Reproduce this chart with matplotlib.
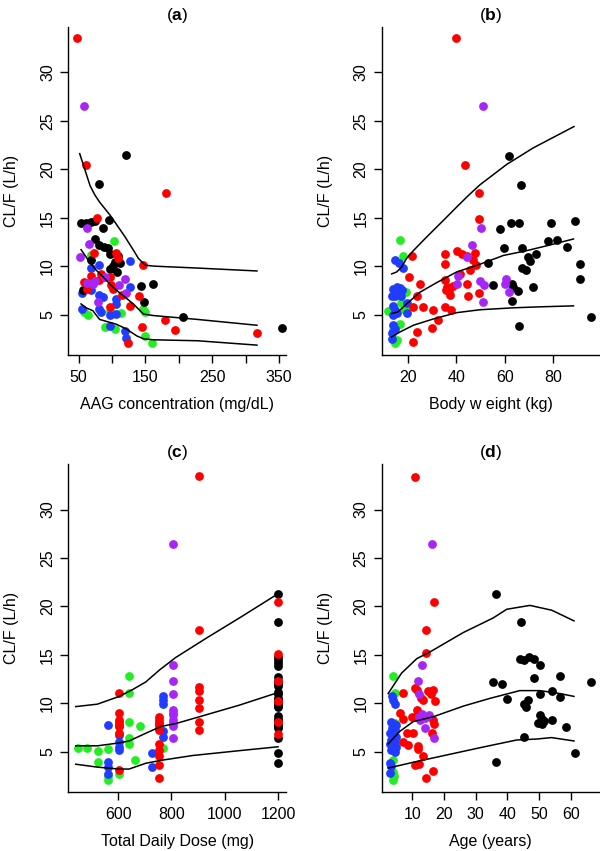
import matplotlib

matplotlib.use("Agg")
import matplotlib.pyplot as plt

plt.rcParams["font.family"] = ["Liberation Sans", "DejaVu Sans"]
plt.rcParams["mathtext.fontset"] = "custom"
plt.rcParams["mathtext.bf"] = "Liberation Sans:bold"
plt.rcParams["mathtext.rm"] = "Liberation Sans"

COLORS = {
    "green": "#22ee22",
    "blue": "#1f3cff",
    "black": "#000000",
    "red": "#ff0000",
    "purple": "#a626f5",
}
Y_TICKS = [5, 10, 15, 20, 25, 30]
Y_LABEL = "CL/F (L/h)"

# ---- panel (a): AAG concentration ----
AAG_GREEN = [(103, 12.6), (68.7, 11.1), (63.6, 5.0), (89, 3.7), (104, 3.5), (114, 5.2), (147, 5.6),
             (149.5, 2.8), (159.6, 2.1), (58, 5.3), (97, 5.4), (150, 5.3)]
AAG_BLUE = [(126.8, 10.55), (81, 10.1), (68.7, 9.8), (126.8, 7.8), (55, 7.2), (68.7, 7.5), (81, 7.0),
            (86, 6.8), (106.6, 6.6), (106.6, 6.1), (55, 5.55), (81, 5.55), (83.8, 5.3), (96.5, 5.0),
            (106.6, 5.1), (97.5, 3.8), (119, 3.3), (120.7, 2.6)]
AAG_BLACK = [(120.6, 21.5), (81, 18.5), (53.5, 14.45), (61, 14.45), (68.7, 14.6), (73.7, 14.7),
             (95.5, 14.8), (86.4, 13.9), (73.7, 12.8), (81, 12.2), (87.4, 12.0), (93.6, 11.9),
             (96.5, 11.2), (109, 11.0), (105, 10.45), (101, 10.0), (96.5, 9.7), (143, 7.9),
             (161, 8.2), (148, 6.3), (206.6, 4.8), (354, 3.6), (57, 7.5), (69, 10.6), (107, 9.4),
             (112, 10.3)]
AAG_RED = [(48, 33.5), (61, 20.4), (181, 17.5), (77.8, 15.0), (72.7, 11.4), (106.6, 11.4), (109, 10.8),
           (146, 10.1), (58.6, 8.4), (69, 9.0), (83.8, 9.2), (96.5, 8.9), (99, 8.1), (101.5, 7.6),
           (81, 8.6), (87, 8.9), (141, 6.9), (126.8, 5.9), (96.5, 5.8), (178.8, 4.45), (144.4, 3.7),
           (194, 3.4), (124, 2.1), (317, 3.05), (115, 7.0), (63, 7.6)]
AAG_PURPLE = [(57.5, 26.5), (62, 13.9), (66, 12.3), (52, 10.9), (75, 8.5), (62, 8.3), (71, 8.2),
              (89, 8.9), (110.6, 8.1), (119, 8.7), (120.7, 7.2), (78.8, 6.3)]
AAG_UPPER = [(51.5, 21.6), (67, 18.3), (73.7, 17.4), (81.3, 16.6), (96.5, 15.3), (106.6, 14.3),
             (119, 13.06), (131.8, 11.66), (139.4, 10.8), (149.5, 10.1), (162, 10.0), (228, 9.8),
             (317, 9.5)]
AAG_MEDIAN = [(53.5, 11.7), (66, 10.45), (76, 9.6), (86.4, 8.9), (101.5, 7.8), (116.7, 6.95),
              (131.8, 6.1), (147, 5.05), (162, 4.9), (228, 4.5), (317, 3.9)]
AAG_LOWER = [(53.5, 6.1), (61, 5.7), (71.2, 5.4), (81.3, 4.5), (91.4, 4.3), (106.6, 4.0),
             (121.7, 3.5), (137, 2.8), (147, 2.5), (162, 2.4), (228, 2.3), (317, 1.85)]

# ---- panel (b): body weight ----
WT_GREEN = [(16.5, 12.7), (17.6, 11.0), (11.7, 5.4), (16.5, 4.0), (14.5, 2.1), (15.5, 2.4),
            (17.0, 6.2), (19.0, 7.3), (13.5, 3.4), (18.5, 5.5)]
WT_BLUE = [(14.5, 10.6), (17.9, 9.8), (16.2, 10.3), (13.8, 7.6), (15.2, 7.8), (16.5, 7.7),
           (17.3, 7.5), (13.1, 6.9), (14.5, 6.9), (15.9, 7.1), (16.9, 6.9), (19.3, 6.2),
           (19.3, 5.2), (13.8, 5.9), (14.5, 5.5), (15.2, 5.2), (13.8, 5.0), (13.8, 3.9),
           (14.5, 3.5), (13.1, 3.1), (13.1, 2.5)]
WT_BLACK = [(61.8, 21.4), (66.7, 18.4), (58.1, 13.8), (62.7, 14.4), (66.1, 14.4), (79.1, 14.5),
            (89.3, 14.7), (59.9, 11.9), (67.4, 11.9), (77.8, 12.6), (81.6, 12.7), (86.0, 12.0),
            (73.0, 11.2), (69.9, 10.9), (70.6, 10.5), (53.2, 10.3), (67.1, 9.8), (68.8, 9.6),
            (91.3, 10.2), (91.3, 8.7), (55.0, 8.1), (63.0, 8.2), (63.6, 7.8), (65.7, 7.4),
            (71.6, 7.8), (63.0, 6.4), (66.1, 3.8), (95.8, 4.8)]
WT_RED = [(40.0, 33.5), (43.7, 20.4), (49.4, 17.5), (49.4, 14.9), (21.7, 11.0), (20.4, 8.9),
          (24.8, 8.2), (23.7, 6.9), (22.1, 5.8), (26.2, 5.75), (30.4, 5.5), (32.5, 4.4),
          (29.7, 3.6), (23.5, 3.2), (22.1, 2.2), (35.2, 11.3), (35.2, 10.2), (40.1, 11.6),
          (42.2, 11.3), (44.5, 11.0), (47.6, 11.4), (47.0, 10.6), (48.1, 10.1), (35.2, 8.6),
          (36.0, 7.8), (38.7, 8.0), (35.5, 7.5), (37.0, 7.5), (37.3, 7.0), (35.2, 5.75),
          (37.6, 5.5), (41.5, 9.2), (44.5, 8.2), (44.9, 6.9), (49.4, 7.2), (45.5, 9.6)]
WT_PURPLE = [(51.2, 26.5), (50.0, 13.9), (46.3, 12.2), (44.5, 10.9), (40.8, 9.0), (40.4, 8.2),
             (49.8, 8.5), (51.6, 8.1), (51.2, 6.3), (60.6, 8.7), (60.2, 8.2), (62.0, 7.3)]
WT_UPPER = [(13.1, 9.2), (15.2, 9.4), (17.2, 9.9), (19.3, 10.8), (22.1, 11.6), (27.6, 13.0),
            (34.5, 14.7), (40.1, 16.1), (45.0, 17.3), (49.8, 18.4), (60.9, 20.5), (71.9, 22.2),
            (88.8, 24.4)]
WT_MEDIAN = [(13.1, 5.1), (15.8, 5.3), (19.3, 6.1), (24.8, 7.3), (31.8, 8.3), (40.1, 9.4),
             (49.8, 10.2), (59.5, 11.1), (69.2, 11.6), (77.5, 12.1), (88.6, 12.8)]
WT_LOWER = [(13.1, 2.7), (16.5, 3.2), (22.1, 3.9), (30.4, 4.55), (40.1, 5.2), (49.8, 5.5),
            (63.6, 5.7), (74.7, 5.8), (88.6, 5.9)]

# ---- panel (c): total daily dose ----
DOSE_GREEN = [(450, 5.35), (484, 5.35), (525, 5.1), (562, 5.3), (525, 3.9), (562, 2.1), (604, 2.7),
              (641, 12.8), (641, 11.1), (641, 8.1), (641, 6.4), (641, 5.8), (681, 7.6), (664, 4.1),
              (767, 5.4), (562, 2.5)]
DOSE_BLUE = [(562, 7.8), (562, 3.9), (562, 3.4), (562, 2.7), (604, 8.1), (604, 7.8), (604, 7.6),
             (604, 6.7), (604, 6.0), (604, 5.5), (604, 5.2), (727, 4.9), (727, 3.45), (767, 10.7),
             (767, 10.3), (767, 9.9), (767, 7.1), (767, 6.5)]
DOSE_BLACK = [(1200, v) for v in [21.3, 18.4, 14.8, 14.5, 14.2, 13.8, 12.7, 12.3, 12.0, 11.8, 11.2,
                                  10.9, 10.5, 10.3, 10.1, 9.8, 9.6, 8.7, 8.4, 8.2, 7.8, 7.6, 7.4,
                                  6.4, 4.9, 3.8]]
DOSE_RED = [(604, 11.1), (604, 9.0), (604, 8.3), (604, 7.6), (604, 6.9), (604, 3.1), (752, 8.6),
            (752, 8.3), (752, 8.0), (752, 7.9), (752, 7.6), (752, 7.2), (752, 5.75), (752, 5.2),
            (752, 4.5), (752, 3.6), (752, 2.3), (905, 33.5), (905, 17.6), (905, 11.7), (905, 11.3),
            (905, 10.3), (905, 9.5), (905, 8.1), (905, 7.2), (1200, 20.4), (1200, 15.1),
            (1200, 12.3), (1200, 10.2), (1200, 8.1), (1200, 6.8)]
DOSE_PURPLE = [(805, 26.4), (805, 13.9), (805, 12.3), (805, 10.9), (805, 9.3), (805, 9.0),
               (805, 8.8), (805, 8.3), (805, 8.0), (805, 7.6), (805, 6.4)]
DOSE_UPPER = [(441, 9.65), (522, 9.9), (604, 10.7), (654, 11.4), (704, 12.2), (754, 13.4),
              (815, 14.7), (930, 16.7), (1055, 18.8), (1200, 21.3)]
DOSE_MEDIAN = [(441, 5.6), (522, 5.6), (604, 5.9), (641, 6.1), (704, 6.9), (761, 7.6), (817, 7.9),
               (930, 8.8), (1055, 9.8), (1200, 11.1)]
DOSE_LOWER = [(441, 3.7), (522, 3.4), (604, 3.2), (641, 3.2), (704, 3.8), (761, 4.1), (880, 4.6),
              (1055, 5.1), (1200, 5.5)]

# ---- panel (d): age ----
AGE_GREEN = [(3.8, 12.8), (4.5, 11.1), (4.5, 5.3), (4.0, 4.1), (4.0, 2.9), (3.8, 2.1), (4.6, 8.0),
             (4.2, 2.5)]
AGE_BLUE = [(3.5, 10.7), (4.0, 10.3), (4.5, 9.9), (3.2, 8.1), (4.2, 7.9), (5.0, 7.7), (3.6, 7.4),
            (4.6, 7.2), (3.1, 6.9), (4.1, 6.7), (5.0, 6.5), (3.4, 6.2), (4.4, 6.0), (3.0, 5.8),
            (4.0, 5.6), (5.0, 5.5), (3.4, 5.2), (4.4, 5.0), (3.0, 3.8), (3.3, 3.5), (3.0, 2.75)]
AGE_BLACK = [(36.3, 21.3), (44.2, 18.4), (35.3, 12.2), (38.2, 12.0), (39.9, 10.45), (43.9, 14.6),
             (45.2, 14.5), (46.9, 14.8), (48.4, 14.6), (50.2, 13.9), (56.5, 12.8), (48.3, 12.6),
             (54.1, 11.3), (56.5, 10.6), (50.4, 10.9), (46.6, 10.3), (45.2, 9.9), (46.0, 9.6),
             (50.4, 8.8), (51.0, 8.4), (49.5, 8.0), (50.8, 7.9), (51.4, 8.2), (54.1, 8.3),
             (58.4, 7.5), (45.2, 6.5), (36.3, 3.9), (61.3, 4.9), (66.3, 12.2)]
AGE_RED = [(10.9, 33.4), (16.9, 20.4), (14.2, 17.6), (14.2, 15.2), (7.2, 11.1), (10.8, 11.55),
           (11.6, 11.4), (15.0, 11.3), (16.6, 11.4), (15.8, 11.0), (12.9, 10.5), (17.1, 10.2),
           (6.1, 9.0), (7.2, 8.4), (9.8, 8.6), (11.4, 9.3), (11.9, 9.0), (16.6, 8.3), (16.9, 7.9),
           (8.2, 6.9), (10.3, 6.9), (7.2, 6.0), (8.7, 5.7), (11.7, 5.6), (11.7, 5.3), (16.1, 6.9),
           (13.5, 4.5), (11.0, 3.6), (12.0, 3.7), (16.6, 3.0), (14.2, 2.3), (13.5, 10.3)]
AGE_PURPLE = [(16.1, 26.4), (13.2, 13.9), (11.9, 12.3), (12.2, 11.0), (12.0, 8.6), (13.0, 8.9),
              (14.0, 8.5), (12.4, 8.3), (14.0, 7.4), (16.8, 6.4), (15.2, 8.8)]
AGE_UPPER = [(2.4, 11.0), (6.6, 13.1), (11.4, 14.6), (15.6, 15.3), (26.1, 17.3), (35.5, 18.8),
             (39.8, 19.7), (47.1, 20.1), (54.0, 19.6), (61.0, 18.5)]
AGE_MEDIAN = [(2.4, 5.8), (6.1, 7.1), (10.3, 8.1), (16.6, 8.6), (26.1, 9.7), (34.5, 10.5),
              (43.9, 11.3), (50.2, 11.3), (56.5, 11.0), (61.0, 10.7)]
AGE_LOWER = [(2.4, 3.3), (10.3, 3.9), (20.8, 4.65), (31.3, 5.4), (42.9, 6.2), (49.2, 6.3),
             (53.9, 6.45), (61.0, 6.1)]

PANELS = [
    {
        "tag": "a", "xlabel": "AAG concentration (mg/dL)", "xlim": (34.4, 360.5),
        "xticks": [50, 100, 150, 200, 250, 300, 350], "xlabels": ["50", "", "150", "", "250", "", "350"],
        "points": [("green", AAG_GREEN), ("blue", AAG_BLUE), ("black", AAG_BLACK),
                   ("red", AAG_RED), ("purple", AAG_PURPLE)],
        "lines": [AAG_UPPER, AAG_MEDIAN, AAG_LOWER],
        "rect": [68.3, 26.7, 286.0, 355.3],
    },
    {
        "tag": "b", "xlabel": "Body w eight (kg)", "xlim": (8.95, 99.6),
        "xticks": [20, 40, 60, 80], "xlabels": ["20", "40", "60", "80"],
        "points": [("green", WT_GREEN), ("blue", WT_BLUE), ("black", WT_BLACK),
                   ("red", WT_RED), ("purple", WT_PURPLE)],
        "lines": [WT_UPPER, WT_MEDIAN, WT_LOWER],
        "rect": [381.7, 26.7, 600.0, 355.3],
    },
    {
        "tag": "c", "xlabel": "Total Daily Dose (mg)", "xlim": (413, 1230),
        "xticks": [600, 800, 1000, 1200], "xlabels": ["600", "800", "1000", "1200"],
        "points": [("green", DOSE_GREEN), ("blue", DOSE_BLUE), ("black", DOSE_BLACK),
                   ("red", DOSE_RED), ("purple", DOSE_PURPLE)],
        "lines": [DOSE_UPPER, DOSE_MEDIAN, DOSE_LOWER],
        "rect": [68.3, 464.0, 286.0, 792.3],
    },
    {
        "tag": "d", "xlabel": "Age (years)", "xlim": (0.35, 69.2),
        "xticks": [10, 20, 30, 40, 50, 60], "xlabels": ["10", "20", "30", "40", "50", "60"],
        "points": [("green", AGE_GREEN), ("blue", AGE_BLUE), ("black", AGE_BLACK),
                   ("red", AGE_RED), ("purple", AGE_PURPLE)],
        "lines": [AGE_UPPER, AGE_MEDIAN, AGE_LOWER],
        "rect": [381.7, 464.0, 600.0, 792.3],
    },
]

W, H = 600, 851
fig = plt.figure(figsize=(W / 100, H / 100), dpi=100)

for panel in PANELS:
    x0, y0, x1, y1 = panel["rect"]
    ax = fig.add_axes([x0 / W, 1 - y1 / H, (x1 - x0) / W, (y1 - y0) / H])
    for name, pts in panel["points"]:
        ax.scatter([p[0] for p in pts], [p[1] for p in pts], s=40, color=COLORS[name],
                   linewidths=0, zorder=2, clip_on=False)
    for line in panel["lines"]:
        ax.plot([p[0] for p in line], [p[1] for p in line], color="black", linewidth=1.1, zorder=3)

    ax.set_xlim(*panel["xlim"])
    ax.set_ylim(0.8, 34.7)
    ax.set_xticks(panel["xticks"])
    ax.set_xticklabels(panel["xlabels"])
    ax.set_yticks(Y_TICKS)
    ax.set_yticklabels([str(t) for t in Y_TICKS], rotation=90, va="center")
    for side in ("top", "right"):
        ax.spines[side].set_visible(False)
    for side in ("left", "bottom"):
        ax.spines[side].set_linewidth(1.0)
    ax.tick_params(direction="out", length=5.5, width=1.0, labelsize=11.5, pad=5)
    ax.tick_params(axis="y", pad=4)
    ax.set_xlabel(panel["xlabel"], fontsize=11.5)
    ax.set_ylabel(Y_LABEL, fontsize=11.5)
    ax.xaxis.set_label_coords(0.5, -0.128)
    ax.yaxis.set_label_coords(-0.225, 0.5)
    ax.set_title("(" + r"$\mathbf{" + panel["tag"] + "}$" + ")", fontsize=12.5, pad=5)

fig.savefig("out.png", dpi=100)
